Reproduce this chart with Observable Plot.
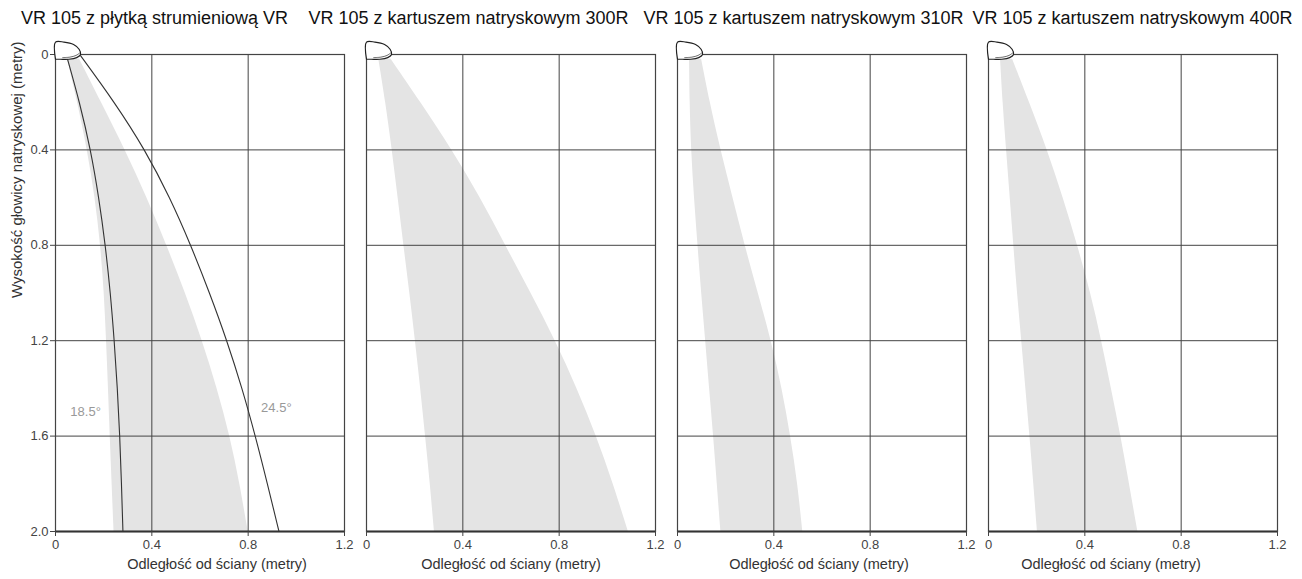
<!DOCTYPE html>
<html><head><meta charset="utf-8">
<script src="https://cdn.jsdelivr.net/npm/d3@7"></script>
<script src="https://cdn.jsdelivr.net/npm/@observablehq/plot@0.6"></script>
<style>
body{margin:0;background:#fff;font-family:"Liberation Sans",Arial,sans-serif;}
#wrap{position:relative;width:1302px;height:579px;overflow:hidden;background:#fff}
.title{position:absolute;top:8px;font-size:18px;color:#111;white-space:nowrap;transform:translateX(-50%)}
.panel{position:absolute;top:36px}
.panel svg{overflow:visible}
</style></head>
<body><div id="wrap"></div>
<script>
// ---- data ----
const titles = [
  "VR 105 z płytką strumieniową VR",
  "VR 105 z kartuszem natryskowym 300R",
  "VR 105 z kartuszem natryskowym 310R",
  "VR 105 z kartuszem natryskowym 400R"
];
const xLabel = "Odległość od ściany (metry)";
const yLabel = "Wysokość głowicy natryskowej (metry)";
const xTicks = [0, 0.4, 0.8, 1.2];
const yTicks = [0, 0.4, 0.8, 1.2, 1.6, 2.0];

// spray heights (m)
const sprayY = [0.02, 0.2, 0.4, 0.6, 0.8, 1.0, 1.2, 1.4, 1.6, 1.8, 2.0];
// left / right edge of spray cone (m from wall)
const vrLeft  = [0.05, 0.092, 0.133, 0.165, 0.188, 0.203, 0.212, 0.220, 0.227, 0.235, 0.243];
const vrRight = [0.10, 0.190, 0.290, 0.380, 0.462, 0.540, 0.610, 0.672, 0.725, 0.766, 0.800];
const r300Left  = [0.051, 0.080, 0.107, 0.131, 0.155, 0.180, 0.203, 0.225, 0.245, 0.265, 0.282];
const r300Right = [0.102, 0.225, 0.356, 0.473, 0.577, 0.683, 0.785, 0.875, 0.955, 1.025, 1.087];
const r310Left  = [0.05, 0.052, 0.058, 0.070, 0.085, 0.100, 0.117, 0.133, 0.150, 0.165, 0.180];
const r310Right = [0.10, 0.135, 0.180, 0.230, 0.280, 0.335, 0.390, 0.435, 0.470, 0.500, 0.520];
const r400Left  = [0.05, 0.060, 0.075, 0.090, 0.105, 0.120, 0.138, 0.155, 0.172, 0.188, 0.203];
const r400Right = [0.10, 0.170, 0.245, 0.310, 0.370, 0.425, 0.470, 0.510, 0.550, 0.585, 0.620];

// angle boundary curves (panel 1)
const angle185Y = [0.02, 0.2, 0.4, 0.6, 0.8, 1.0, 1.2, 1.4, 1.6, 1.8, 2.0];
const angle185X = [0.05, 0.10, 0.146, 0.18, 0.207, 0.228, 0.244, 0.257, 0.267, 0.274, 0.28];
const angle245Y = [0.005, 0.2, 0.4, 0.6, 0.8, 1.0, 1.2, 1.4, 1.6, 1.8, 2.0];
const angle245X = [0.104, 0.245, 0.372, 0.475, 0.562, 0.64, 0.712, 0.775, 0.83, 0.88, 0.928];
const angleLabels = ["18.5°", "24.5°"];
const angleLabelX = [0.125, 0.917];
const angleLabelY = [1.50, 1.48];

// nozzle outline (m)
const nozzleX = [0, 0, 0.035, 0.075, 0.098, 0.104, 0.088, 0.055, 0.02, 0];
const nozzleY = [0.02, -0.052, -0.052, -0.042, -0.022, 0.0, 0.013, 0.02, 0.02, 0.02];
const hatchX = [0.03, 0.06, 0.085, 0.1];
const hatchY = [0.013, 0.011, 0.004, -0.006];

// ---- build ----
const sprays = [[vrLeft, vrRight], [r300Left, r300Right], [r310Left, r310Right], [r400Left, r400Right]];
const fmt = d => d === 0 ? "0" : d.toFixed(1);
const wrap = document.getElementById("wrap");
const layout = [
  {left: 0, ml: 55, mr: 11, titleCenter: 154.5, labelDx: 17},
  {left: 355, ml: 11, mr: 11, titleCenter: 468.5, labelDx: 0},
  {left: 666, ml: 11, mr: 11, titleCenter: 803.5, labelDx: -3},
  {left: 977, ml: 11, mr: 14, titleCenter: 1132.5, labelDx: -22}
];
const plotW = 289, plotH = 477, mt = 18, mb = 45;

titles.forEach((t, i) => {
  const L = layout[i];
  const [lft, rgt] = sprays[i];
  const spray = sprayY.map((y, k) => ({y, x1: lft[k], x2: rgt[k]}));
  const nozzle = nozzleX.map((x, k) => ({x, y: nozzleY[k]}));
  const hatch = hatchX.map((x, k) => ({x, y: hatchY[k]}));
  const marks = [
    Plot.areaX(spray, {y: "y", x1: "x1", x2: "x2", fill: "#e4e4e4", curve: "basis"}),
    Plot.gridX([0.4, 0.8], {stroke: "#444", strokeOpacity: 1, strokeWidth: 1}),
    Plot.gridY([0.4, 0.8, 1.2, 1.6], {stroke: "#444", strokeOpacity: 1, strokeWidth: 1}),
    Plot.frame({stroke: "#444", strokeWidth: 1.2}),
    Plot.ruleY([2], {stroke: "#333", strokeWidth: 2}),
    Plot.axisX({ticks: xTicks, tickFormat: fmt, tickSize: 5, tickPadding: 3, fontSize: 13, color: "#444", label: null}),
    Plot.text([xLabel], {text: d => d, frameAnchor: "bottom", dx: L.labelDx, dy: 37, fontSize: 14.5, fill: "#333"})
  ];
  if (i === 0) {
    const c1 = angle185Y.map((y, k) => ({y, x: angle185X[k]}));
    const c2 = angle245Y.map((y, k) => ({y, x: angle245X[k]}));
    marks.push(
      Plot.line(c1, {x: "x", y: "y", stroke: "#333", strokeWidth: 1.1, curve: "basis"}),
      Plot.line(c2, {x: "x", y: "y", stroke: "#333", strokeWidth: 1.1, curve: "basis"}),
      Plot.text(angleLabels, {x: (d, k) => angleLabelX[k], y: (d, k) => angleLabelY[k], text: d => d, fill: "#999", fontSize: 13}),
      Plot.axisY({ticks: yTicks, tickFormat: fmt, tickSize: 5, tickPadding: 2, fontSize: 13, color: "#444", label: null}),
      Plot.text([yLabel], {text: d => d, frameAnchor: "left", dx: -38, dy: 5, rotate: -90, fontSize: 15, fill: "#333"})
    );
  } else {
    marks.push(Plot.axisY({ticks: [], label: null}));
  }
  marks.push(
    Plot.line(nozzle, {x: "x", y: "y", fill: "white", stroke: "#222", strokeWidth: 1.2, curve: "catmull-rom"}),
    Plot.line(hatch, {x: "x", y: "y", stroke: "#444", strokeWidth: 0.8, curve: "catmull-rom"})
  );

  const chart = Plot.plot({
    width: L.ml + plotW + L.mr,
    height: mt + plotH + mb,
    marginLeft: L.ml, marginRight: L.mr, marginTop: mt, marginBottom: mb,
    style: {fontFamily: "'Liberation Sans', Arial, sans-serif", background: "white", overflow: "visible"},
    x: {domain: [0, 1.2]},
    y: {domain: [0, 2], reverse: true},
    marks
  });
  const div = document.createElement("div");
  div.className = "panel";
  div.style.left = L.left + "px";
  div.appendChild(chart);
  wrap.appendChild(div);

  const td = document.createElement("div");
  td.className = "title";
  td.style.left = L.titleCenter + "px";
  td.textContent = t;
  wrap.appendChild(td);
});
</script></body></html>
